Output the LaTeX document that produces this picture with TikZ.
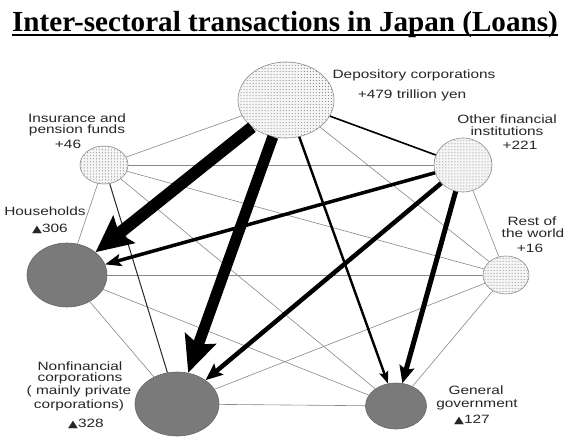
\documentclass[tikz,border=0pt]{standalone}
\usepackage{fontspec}
\setmainfont{Liberation Serif}
\newfontfamily\arial{Liberation Sans}
\newfontfamily\simboli{DejaVu Sans}
\usetikzlibrary{shapes.geometric, arrows.meta, patterns}

\definecolor{grigiosettore}{RGB}{122,122,122}
\definecolor{grigiobordo}{RGB}{140,140,140}
\definecolor{grigiolegame}{RGB}{135,135,135}

\newcommand{\triangolo}{{\simboli\fontsize{10}{10}\selectfont ▲}}

\begin{document}
\begin{tikzpicture}[
  etichetta/.style={font=\arial\fontsize{12}{13}\selectfont, text=black!85, inner sep=0pt, xscale=1.28, anchor=base},
  settore/.style={ellipse, inner sep=0pt, line width=0.6pt},
  finanziario/.style={settore, draw=grigiobordo, preaction={fill=black!4}, pattern=dots, pattern color=black!55},
  reale/.style={settore, draw=black!60, fill=grigiosettore},
  legame/.style={draw=grigiolegame, line width=0.6pt},
  flusso/.style={draw=black, line cap=butt}
]
\useasboundingbox (0,0) rectangle (19.740,-15.260);

%--------------------------------------------------------------
% Titolo
%--------------------------------------------------------------
\node[font=\bfseries\fontsize{29}{31}\selectfont, inner sep=0pt, anchor=base] (titolo) at (9.975,-1.085) {Inter-sectoral transactions in Japan (Loans)};
\draw[line width=1.8pt] ([yshift=-4pt]titolo.base west) -- ([yshift=-4pt]titolo.base east);

%--------------------------------------------------------------
% Settori finanziari (in alto)
%--------------------------------------------------------------
\node[finanziario, minimum width=3.360cm, minimum height=2.660cm] (depositi) at (10.010,-3.500) {};
\node[finanziario, minimum width=1.680cm, minimum height=1.330cm] (assicurazioni) at (3.640,-5.775) {};
\node[finanziario, minimum width=2.030cm, minimum height=1.890cm] (altrifin) at (16.205,-5.775) {};
\node[finanziario, minimum width=1.610cm, minimum height=1.330cm] (estero) at (17.710,-9.625) {};

%--------------------------------------------------------------
% Settori non finanziari (in basso)
%--------------------------------------------------------------
\node[reale, minimum width=2.800cm, minimum height=2.240cm] (famiglie) at (2.345,-9.625) {};
\node[reale, minimum width=2.940cm, minimum height=2.240cm] (imprese) at (6.195,-14.140) {};
\node[reale, minimum width=2.135cm, minimum height=1.610cm] (governo) at (13.860,-14.210) {};

%--------------------------------------------------------------
% Legami sottili tra i settori
%--------------------------------------------------------------
\draw[legame] (depositi) -- (assicurazioni);
\draw[legame] (depositi) -- (estero);
\draw[legame] (assicurazioni) -- (altrifin);
\draw[legame] (assicurazioni) -- (estero);
\draw[legame] (assicurazioni) -- (governo);
\draw[legame] (assicurazioni) -- (famiglie);
\draw[legame] (altrifin) -- (estero);
\draw[legame] (estero) -- (famiglie);
\draw[legame] (estero) -- (imprese);
\draw[legame] (estero) -- (governo);
\draw[legame] (famiglie) -- (imprese);
\draw[legame] (famiglie) -- (governo);
\draw[legame] (imprese) -- (governo);
\draw[draw=black!85, line width=1pt] (assicurazioni) -- (imprese);
\draw[draw=black, line width=1.6pt] (depositi) -- (altrifin);

%--------------------------------------------------------------
% Flussi di prestiti
%--------------------------------------------------------------
\draw[flusso, line width=2.4pt, -{Stealth[length=12pt, width=9pt, inset=2pt]}] (depositi) -- (governo);
\draw[flusso, line width=3.5pt, -{Stealth[length=16pt, width=12pt, inset=3pt]}] (altrifin) -- (famiglie);
\draw[flusso, line width=4.5pt, -{Stealth[length=17pt, width=14pt, inset=3pt]}] (altrifin) -- (imprese);
\draw[flusso, line width=5pt, -{Stealth[length=17pt, width=15pt, inset=3pt]}] (altrifin) -- (governo);
\draw[flusso, line width=12pt, -{Stealth[length=36pt, width=34pt, inset=6pt]}] (depositi) -- (famiglie);
\draw[flusso, line width=11pt, -{Stealth[length=36pt, width=32pt, inset=6pt]}] (depositi) -- (imprese);

%--------------------------------------------------------------
% Etichette
%--------------------------------------------------------------
\node[etichetta] at (14.490,-2.730) {Depository corporations};
\node[etichetta] at (14.420,-3.430) {+479 trillion yen};
\node[etichetta] at (2.695,-4.270) {Insurance and};
\node[etichetta] at (2.695,-4.655) {pension funds};
\node[etichetta] at (2.380,-5.180) {+46};
\node[etichetta] at (1.575,-7.525) {Households};
\node[etichetta] at (1.750,-8.120) {\triangolo306};
\node[etichetta] at (17.745,-4.305) {Other financial};
\node[etichetta] at (17.745,-4.725) {institutions};
\node[etichetta] at (18.200,-5.215) {+221};
\node[etichetta] at (18.620,-7.875) {Rest of};
\node[etichetta] at (18.655,-8.295) {the world};
\node[etichetta] at (18.550,-8.820) {+16};
\node[etichetta] at (2.800,-12.950) {Nonfinancial};
\node[etichetta] at (2.800,-13.335) {corporations};
\node[etichetta] at (2.765,-13.790) {( mainly private};
\node[etichetta] at (2.765,-14.280) {corporations)};
\node[etichetta] at (3.010,-14.945) {\triangolo328};
\node[etichetta] at (16.660,-13.790) {General};
\node[etichetta] at (16.695,-14.245) {government};
\node[etichetta] at (16.520,-14.805) {\triangolo127};

\end{tikzpicture}
\end{document}
